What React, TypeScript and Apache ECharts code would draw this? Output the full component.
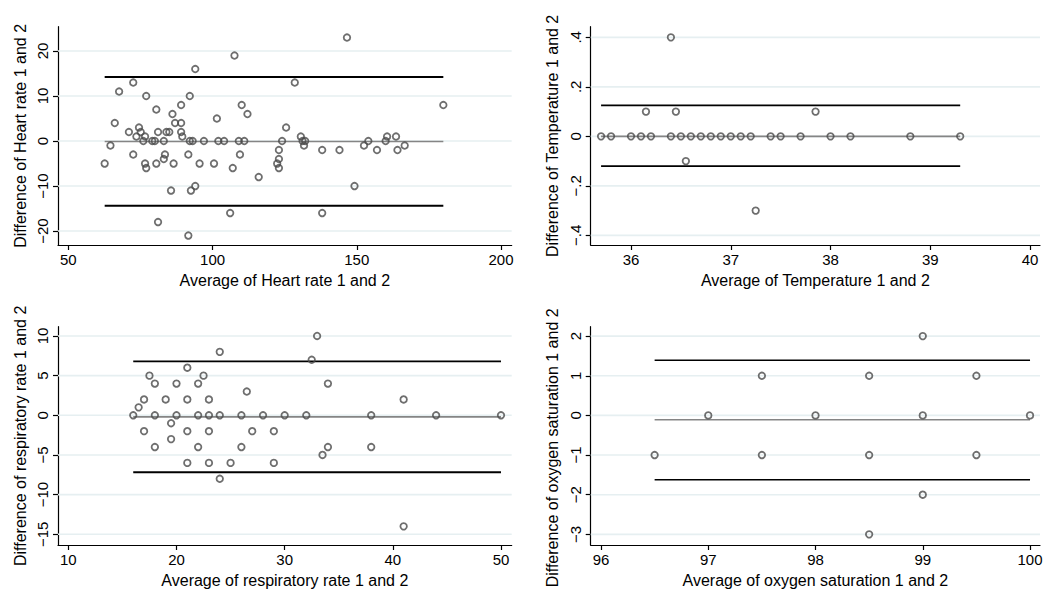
import React, { useEffect, useRef } from "react";
import * as echarts from "echarts";

// ---------- Heart rate ----------
const hrX = [62.6, 64.6, 66.1, 67.6, 71.0, 72.5, 72.5, 73.6, 74.5, 75.1, 76.6, 76.0, 76.6, 77.0, 77.0, 79.1, 80.0, 80.5, 80.5, 81.1, 81.1, 83.1, 83.1, 83.5, 84.0, 85.0, 85.6, 86.1, 86.5, 87.0, 89.1, 89.1, 89.1, 89.5, 91.6, 91.6, 92.1, 92.1, 93.1, 92.5, 94.0, 94.0, 95.5, 97.0, 100.5, 101.5, 102.0, 104.0, 106.1, 107.0, 107.6, 109.1, 109.5, 110.1, 111.0, 112.1, 116.0, 122.4, 123.0, 123.0, 123.0, 124.1, 125.5, 128.5, 130.6, 131.2, 131.7, 132.1, 138.0, 138.0, 144.0, 146.6, 149.2, 152.5, 154.0, 157.0, 160.0, 160.5, 163.6, 164.1, 166.6, 180.0];
const hrY = [-5, -1, 4, 11, 2, 13, -3, 1, 3, 2, 1, 0, -5, -6, 10, 0, 0, 7, -5, 2, -18, 0, -4, -3, 2, 2, -11, 6, -5, 4, 8, 4, 2, 1, -3, -21, 10, 0, 0, -11, 16, -10, -5, 0, -5, 5, 0, 0, -16, -6, 19, 0, -3, 8, 0, 6, -8, -5, -2, -4, -6, 0, 3, 13, 1, 0, -1, 0, -2, -16, -2, 23, -10, -1, 0, -2, 0, 1, 1, -2, -1, 8];
const hrLimits = [14.2, -0.1, -14.4]; // upper, mean, lower
const hrRange = [62.6, 180.0];
const hrXTicks = [50, 100, 150, 200];
const hrYTicks = [-20, -10, 0, 10, 20];

// ---------- Temperature ----------
const tempX = [35.7, 35.8, 36.0, 36.1, 36.2, 36.4, 36.5, 36.6, 36.7, 36.8, 36.9, 37.0, 37.1, 37.2, 37.4, 37.5, 37.7, 38.0, 38.2, 38.8, 39.3, 36.4, 36.15, 36.45, 37.85, 36.55, 37.25];
const tempY = [0, 0, 0, 0, 0, 0, 0, 0, 0, 0, 0, 0, 0, 0, 0, 0, 0, 0, 0, 0, 0, 0.4, 0.1, 0.1, 0.1, -0.1, -0.3];
const tempLimits = [0.125, 0.0, -0.12];
const tempRange = [35.7, 39.3];
const tempXTicks = [36, 37, 38, 39, 40];
const tempYTicks = [-0.4, -0.2, 0, 0.2, 0.4];

// ---------- Respiratory rate ----------
const rrX = [16.0, 16.5, 17.0, 17.0, 17.5, 18.0, 18.0, 18.0, 19.0, 19.5, 19.5, 20.0, 20.0, 21.0, 21.0, 21.0, 21.0, 22.0, 22.0, 22.0, 22.5, 23.0, 23.0, 23.0, 23.0, 24.0, 24.0, 24.0, 25.0, 26.0, 26.0, 26.5, 27.0, 28.0, 29.0, 29.0, 30.0, 32.0, 32.5, 33.0, 33.5, 34.0, 34.0, 38.0, 38.0, 41.0, 41.0, 44.0, 50.0];
const rrY = [0, 1, 2, -2, 5, 4, 0, -4, 2, -1, -3, 4, 0, 6, 2, -2, -6, 4, 0, -4, 5, 2, 0, -2, -6, 8, 0, -8, -6, 0, -4, 3, -2, 0, -2, -6, 0, 0, 7, 10, -5, 4, -4, 0, -4, 2, -14, 0, 0];
const rrLimits = [6.8, -0.2, -7.18];
const rrRange = [16.0, 50.0];
const rrXTicks = [10, 20, 30, 40, 50];
const rrYTicks = [-15, -10, -5, 0, 5, 10];

// ---------- Oxygen saturation ----------
const spX = [96.5, 97.0, 97.5, 97.5, 98.0, 98.5, 98.5, 98.5, 99.0, 99.0, 99.0, 99.5, 99.5, 100.0];
const spY = [-1, 0, 1, -1, 0, 1, -1, -3, 2, 0, -2, 1, -1, 0];
const spLimits = [1.39, -0.11, -1.62];
const spRange = [96.5, 100.0];
const spXTicks = [96, 97, 98, 99, 100];
const spYTicks = [-3, -2, -1, 0, 1, 2];

const xTitles = [
  "Average of Heart rate 1 and 2",
  "Average of Temperature 1 and 2",
  "Average of respiratory rate 1 and 2",
  "Average of oxygen saturation 1 and 2",
];
const yTitles = [
  "Difference of Heart rate 1 and 2",
  "Difference of Temperature 1 and 2",
  "Difference of respiratory rate 1 and 2",
  "Difference of oxygen saturation 1 and 2",
];

const FONT = "Liberation Sans, Arial, Helvetica, sans-serif";

function fmtY(v: number, stata: boolean): string {
  let s = String(Math.round(v * 1000) / 1000);
  if (stata) s = s.replace("0.", ".");
  return s.replace("-", "\u2212");
}

export default function App() {
  const ref = useRef<HTMLDivElement>(null);
  useEffect(() => {
    document.body.style.margin = "0";
    if (!ref.current) return;
    const chart = echarts.init(ref.current, undefined, { renderer: "svg" });

    const panels = [
      { x: hrX, y: hrY, lim: hrLimits, rng: hrRange, xt: hrXTicks, yt: hrYTicks, xmin: 46.42, xmax: 203.7, ymin: -23.1, ymax: 25.4, dot: false, lw: 2, mw: 1.3, pad: [0, 0, 0, 0] },
      { x: tempX, y: tempY, lim: tempLimits, rng: tempRange, xt: tempXTicks, yt: tempYTicks, xmin: 35.596, xmax: 40.1, ymin: -0.439, ymax: 0.443, dot: true, lw: 1.8, mw: 1.8, pad: [0, 0, 0, 0] },
      { x: rrX, y: rrY, lim: rrLimits, rng: rrRange, xt: rrXTicks, yt: rrYTicks, xmin: 9.045, xmax: 50.99, ymin: -16.35, ymax: 11.17, dot: false, lw: 1.8, mw: 1.8, pad: [0, 0, 0, 0] },
      { x: spX, y: spY, lim: spLimits, rng: spRange, xt: spXTicks, yt: spYTicks, xmin: 95.904, xmax: 100.093, ymin: -3.268, ymax: 2.237, dot: false, lw: 1.5, mw: 1.5, pad: [0, 24, 0, 0] },
    ];
    const grids = [
      { left: 58, top: 26.7, width: 453.7, height: 218.3, outerBoundsMode: "none", containLabel: false },
      { left: 590.7, top: 26.7, width: 449.3, height: 218.3, outerBoundsMode: "none", containLabel: false },
      { left: 58, top: 326.7, width: 453.7, height: 218.3, outerBoundsMode: "none", containLabel: false },
      { left: 590.7, top: 326.7, width: 449.3, height: 218.3, outerBoundsMode: "none", containLabel: false },
    ];

    const xAxis: any[] = [];
    const yAxis: any[] = [];
    const series: any[] = [];
    panels.forEach((p, i) => {
      xAxis.push({
        type: "value",
        gridIndex: i,
        min: p.xmin,
        max: p.xmax,
        name: xTitles[i],
        nameLocation: "middle",
        nameGap: 27,
        nameTextStyle: { color: "#000", fontSize: 16, fontFamily: FONT },
        axisLine: { show: true, onZero: false, lineStyle: { color: "#000", width: 1.2 } },
        axisTick: { show: true, length: 5, customValues: p.xt, lineStyle: { color: "#000", width: 1.2 } },
        axisLabel: { show: true, customValues: p.xt, color: "#000", fontSize: 15, fontFamily: FONT, margin: 7, formatter: (v: number) => String(v) },
        splitLine: { show: false },
      });
      yAxis.push({
        type: "value",
        gridIndex: i,
        min: p.ymin,
        max: p.ymax,
        name: yTitles[i],
        nameLocation: "middle",
        nameRotate: 90,
        nameGap: 30,
        nameTextStyle: { color: "#000", fontSize: 16, fontFamily: FONT, padding: p.pad },
        axisLine: { show: true, onZero: false, lineStyle: { color: "#000", width: 1.2 } },
        axisTick: { show: true, length: 5, customValues: p.yt, lineStyle: { color: "#000", width: 1.2 } },
        axisLabel: { show: true, customValues: p.yt, rotate: 90, color: "#000", fontSize: 15, fontFamily: FONT, margin: 8, formatter: (v: number) => fmtY(v, p.dot) },
        splitLine: { show: false },
      });
      // grid lines, one per y tick, across the whole plot region
      p.yt.forEach((v) => {
        series.push({
          type: "line",
          xAxisIndex: i,
          yAxisIndex: i,
          data: [
            [p.xmin, v],
            [p.xmax, v],
          ],
          symbol: "none",
          silent: true,
          lineStyle: { color: "#e6eff1", width: 1.6 },
          z: 0,
        });
      });
      const mk = (val: number, color: string, width: number, z: number) => ({
        type: "line",
        xAxisIndex: i,
        yAxisIndex: i,
        data: [
          [p.rng[0], val],
          [p.rng[1], val],
        ],
        symbol: "none",
        silent: true,
        lineStyle: { color, width },
        z,
      });
      series.push(mk(p.lim[1], "#858585", p.mw, 2));
      series.push(mk(p.lim[0], "#000", p.lw, 3));
      series.push(mk(p.lim[2], "#000", p.lw, 3));
      series.push({
        type: "scatter",
        xAxisIndex: i,
        yAxisIndex: i,
        data: p.x.map((xv, k) => [xv, p.y[k]]),
        symbol: "circle",
        symbolSize: 6.5,
        itemStyle: { color: "rgba(0,0,0,0)", borderColor: "#4a4a4a", borderWidth: 1.8 },
        z: 4,
      });
    });

    chart.setOption({
      animation: false,
      backgroundColor: "#fff",
      grid: grids,
      xAxis,
      yAxis,
      series,
    });
    return () => chart.dispose();
  }, []);
  return <div ref={ref} style={{ width: 1047, height: 590 }} />;
}
